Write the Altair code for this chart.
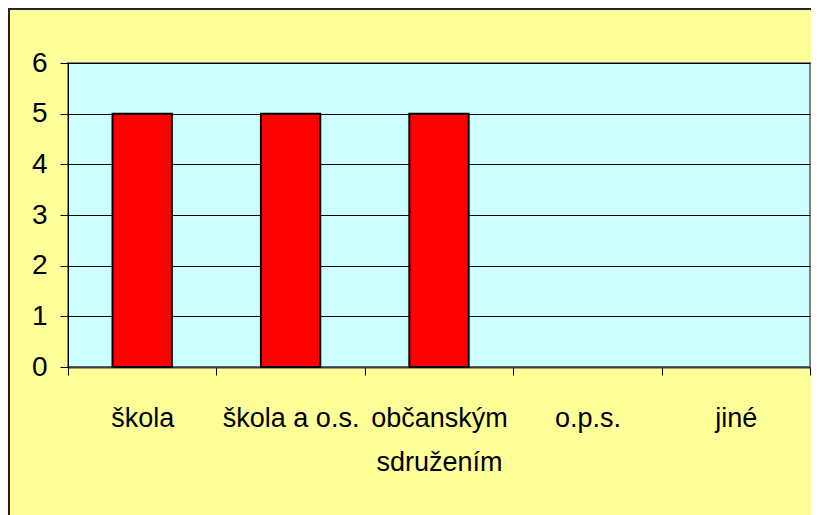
import altair as alt
import pandas as pd

categories = ["škola", "škola a o.s.", "občanským sdružením", "o.p.s.", "jiné"]
values = [5, 5, 5, 0, 0]

df = pd.DataFrame({"kategorie": categories, "pocet": values})

FONT = "Liberation Sans, Arial, sans-serif"
W, H = 742, 304
PL, PT = 60, 55
CANVAS_W, CANVAS_H = 803, 520

x_enc = alt.X(
    "kategorie:N",
    sort=categories,
    scale=alt.Scale(paddingInner=0, paddingOuter=0),
    axis=alt.Axis(
        title=None,
        labelAngle=0,
        labelFont=FONT,
        labelFontSize=27,
        labelColor="#000000",
        labelBaseline="top",
        labelPadding=30,
        labelLineHeight=44,
        labelExpr="datum.label == 'občanským sdružením' ? ['občanským', 'sdružením'] : datum.label",
        tickBand="extent",
        tickSize=8,
        tickColor="#000000",
        tickWidth=1,
        domainColor="#404040",
        domainWidth=2,
        grid=False,
    ),
)

bars = alt.Chart(df).mark_bar(
    width=alt.RelativeBandSize(0.4),
    color="#FF0000",
    stroke="#000000",
).encode(
    x=x_enc,
    y=alt.Y(
        "pocet:Q",
        scale=alt.Scale(domain=[0, 6], nice=False),
        axis=alt.Axis(
            title=None,
            values=[0, 1, 2, 3, 4, 5, 6],
            labelFont=FONT,
            labelFontSize=28,
            labelColor="#000000",
            labelPadding=13,
            tickSize=8,
            tickColor="#000000",
            tickWidth=1,
            domainColor="#000000",
            domainWidth=1,
            grid=True,
            gridColor="#000000",
            gridWidth=1,
        ),
    ),
    strokeWidth=alt.condition(alt.datum.pocet > 0, alt.value(2), alt.value(0)),
)

border_top = alt.Chart(df).mark_rule(color="#222222", strokeWidth=2).encode(
    x=alt.value(-PL), x2=alt.value(W + 60), y=alt.value(-PT + 0.5)
)
border_left = alt.Chart(df).mark_rule(color="#222222", strokeWidth=2).encode(
    x=alt.value(-PL + 1), y=alt.value(-PT), y2=alt.value(H + 200)
)

chart = (
    alt.layer(bars, border_top, border_left)
    .properties(
        width=W,
        height=H,
        background="#FFFF99",
        padding={"left": PL, "top": PT, "right": CANVAS_W - PL - W, "bottom": CANVAS_H - PT - H},
        autosize=alt.AutoSizeParams(type="none"),
    )
    .configure_view(fill="#CCFFFF", stroke="#808080", strokeWidth=2)
)

chart.save("out.html", embed_options={"renderer": "svg", "actions": False})
